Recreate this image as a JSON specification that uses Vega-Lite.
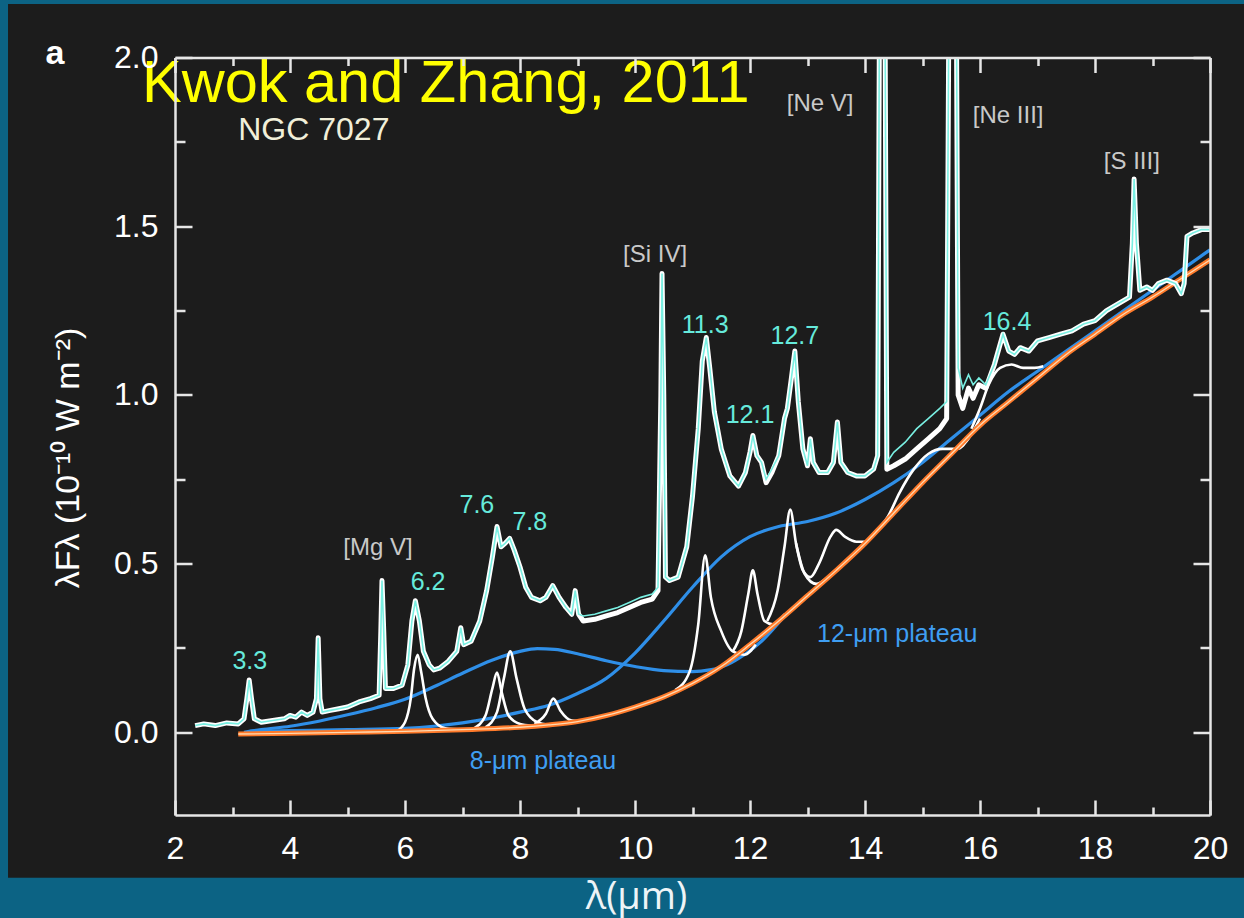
{
"$schema": "https://vega.github.io/schema/vega-lite/v6.json",
"width": 1035,
"height": 757.5,
"autosize": {"type": "none"},
"padding": {"left": 175, "top": 57.5, "right": 34, "bottom": 103},
"background": "#0c6384",
"title": {"text": "Kwok and Zhang, 2011", "color": "#ffff00", "font": "Liberation Sans", "fontSize": 59.5, "fontWeight": "normal", "anchor": "start", "frame": "group", "orient": "top", "offset": 0, "baseline": "alphabetic", "dx": -33, "dy": 157},
"config": {
  "view": {"stroke": null},
  "axis": {"grid": false, "domainColor": "#e6e6e6", "tickColor": "#e6e6e6", "domainWidth": 2.5, "tickWidth": 2.5, "labelColor": "#ffffff", "labelFont": "Liberation Sans", "labelFontSize": 32, "labelFlush": false, "labelOverlap": false}
},
"resolve": {"axis": {"x": "independent", "y": "independent"}},
"datasets": {
  "panel": [{"x1": -0.904, "x2": 20.8, "y1": -0.431, "y2": 2.1585}],
  "obs": [
    {"x":2.35,"y":0.02,"m":0.02},{"x":2.5,"y":0.025,"m":0.025},{"x":2.7,"y":0.02,"m":0.02},{"x":2.9,"y":0.028,"m":0.028},{"x":3.1,"y":0.025,"m":0.025},
    {"x":3.2,"y":0.04,"m":0.04},{"x":3.25,"y":0.1,"m":0.1},{"x":3.29,"y":0.155,"m":0.155},{"x":3.33,"y":0.1,"m":0.1},{"x":3.38,"y":0.04,"m":0.04},
    {"x":3.5,"y":0.03,"m":0.03},{"x":3.7,"y":0.035,"m":0.035},{"x":3.9,"y":0.04,"m":0.04},{"x":4.0,"y":0.05,"m":0.05},{"x":4.1,"y":0.045,"m":0.045},
    {"x":4.2,"y":0.06,"m":0.06},{"x":4.3,"y":0.05,"m":0.05},{"x":4.4,"y":0.06,"m":0.06},{"x":4.46,"y":0.1,"m":0.1},{"x":4.49,"y":0.28,"m":0.28},
    {"x":4.52,"y":0.1,"m":0.1},{"x":4.56,"y":0.06,"m":0.06},{"x":4.7,"y":0.065,"m":0.065},{"x":4.85,"y":0.07,"m":0.07},{"x":5.0,"y":0.075,"m":0.075},
    {"x":5.2,"y":0.09,"m":0.09},{"x":5.4,"y":0.1,"m":0.1},{"x":5.55,"y":0.11,"m":0.11},{"x":5.58,"y":0.3,"m":0.3},{"x":5.6,"y":0.45,"m":0.45},
    {"x":5.63,"y":0.3,"m":0.3},{"x":5.66,"y":0.13,"m":0.13},{"x":5.8,"y":0.13,"m":0.13},{"x":5.95,"y":0.14,"m":0.14},{"x":6.05,"y":0.2,"m":0.2},
    {"x":6.12,"y":0.33,"m":0.33},{"x":6.18,"y":0.39,"m":0.39},{"x":6.25,"y":0.33,"m":0.33},{"x":6.32,"y":0.24,"m":0.24},{"x":6.42,"y":0.2,"m":0.2},
    {"x":6.5,"y":0.185,"m":0.185},{"x":6.6,"y":0.19,"m":0.19},{"x":6.75,"y":0.21,"m":0.21},{"x":6.9,"y":0.24,"m":0.24},{"x":6.97,"y":0.31,"m":0.31},
    {"x":7.02,"y":0.26,"m":0.26},{"x":7.15,"y":0.27,"m":0.27},{"x":7.3,"y":0.33,"m":0.33},{"x":7.42,"y":0.42,"m":0.42},{"x":7.52,"y":0.52,"m":0.52},
    {"x":7.6,"y":0.61,"m":0.61},{"x":7.67,"y":0.55,"m":0.55},{"x":7.74,"y":0.56,"m":0.56},{"x":7.82,"y":0.575,"m":0.575},{"x":7.9,"y":0.54,"m":0.54},
    {"x":8.0,"y":0.49,"m":0.49},{"x":8.1,"y":0.43,"m":0.43},{"x":8.2,"y":0.4,"m":0.4},{"x":8.35,"y":0.39,"m":0.39},{"x":8.45,"y":0.4,"m":0.4},
    {"x":8.57,"y":0.435,"m":0.435},{"x":8.68,"y":0.4,"m":0.4},{"x":8.8,"y":0.37,"m":0.37},{"x":8.9,"y":0.35,"m":0.35},{"x":8.96,"y":0.42,"m":0.42},
    {"x":9.02,"y":0.35,"m":0.35},{"x":9.1,"y":0.33,"m":0.345},{"x":9.3,"y":0.335,"m":0.35},{"x":9.5,"y":0.345,"m":0.36},{"x":9.7,"y":0.355,"m":0.37},
    {"x":9.9,"y":0.37,"m":0.385},{"x":10.1,"y":0.385,"m":0.4},{"x":10.3,"y":0.395,"m":0.41},{"x":10.4,"y":0.42,"m":0.43},{"x":10.45,"y":1.0,"m":1.0},
    {"x":10.47,"y":1.36,"m":1.36},{"x":10.5,"y":1.0,"m":1.0},{"x":10.53,"y":0.46,"m":0.46},{"x":10.6,"y":0.45,"m":0.45},{"x":10.75,"y":0.46,"m":0.46},
    {"x":10.9,"y":0.55,"m":0.55},{"x":11.0,"y":0.7,"m":0.7},{"x":11.1,"y":0.9,"m":0.9},{"x":11.17,"y":1.1,"m":1.1},{"x":11.24,"y":1.17,"m":1.17},
    {"x":11.3,"y":1.08,"m":1.08},{"x":11.38,"y":0.95,"m":0.95},{"x":11.5,"y":0.84,"m":0.84},{"x":11.65,"y":0.76,"m":0.76},{"x":11.8,"y":0.73,"m":0.73},
    {"x":11.92,"y":0.77,"m":0.77},{"x":12.0,"y":0.83,"m":0.83},{"x":12.05,"y":0.88,"m":0.88},{"x":12.12,"y":0.82,"m":0.82},{"x":12.2,"y":0.8,"m":0.8},
    {"x":12.28,"y":0.74,"m":0.75},{"x":12.38,"y":0.77,"m":0.78},{"x":12.5,"y":0.82,"m":0.82},{"x":12.6,"y":0.93,"m":0.93},{"x":12.65,"y":0.96,"m":0.96},
    {"x":12.72,"y":1.05,"m":1.05},{"x":12.78,"y":1.13,"m":1.13},{"x":12.84,"y":0.98,"m":0.98},{"x":12.92,"y":0.84,"m":0.84},{"x":13.0,"y":0.79,"m":0.79},
    {"x":13.05,"y":0.87,"m":0.87},{"x":13.1,"y":0.8,"m":0.8},{"x":13.2,"y":0.77,"m":0.77},{"x":13.35,"y":0.77,"m":0.77},{"x":13.45,"y":0.8,"m":0.8},
    {"x":13.52,"y":0.92,"m":0.92},{"x":13.58,"y":0.8,"m":0.8},{"x":13.7,"y":0.77,"m":0.77},{"x":13.85,"y":0.76,"m":0.76},{"x":14.0,"y":0.76,"m":0.76},
    {"x":14.15,"y":0.78,"m":0.78},{"x":14.22,"y":0.82,"m":0.82},{"x":14.26,"y":2.5,"m":2.5},{"x":14.34,"y":2.5,"m":2.5},{"x":14.38,"y":0.78,"m":0.8},
    {"x":14.5,"y":0.79,"m":0.83},{"x":14.7,"y":0.81,"m":0.86},{"x":14.9,"y":0.84,"m":0.9},{"x":15.1,"y":0.87,"m":0.93},{"x":15.3,"y":0.9,"m":0.96},
    {"x":15.42,"y":0.93,"m":0.98},{"x":15.47,"y":2.5,"m":2.5},{"x":15.58,"y":2.5,"m":2.5},{"x":15.62,"y":1.0,"m":1.08},{"x":15.7,"y":0.96,"m":1.02},
    {"x":15.8,"y":1.02,"m":1.06},{"x":15.88,"y":0.99,"m":1.03},{"x":15.98,"y":1.03,"m":1.05},{"x":16.1,"y":1.02,"m":1.03},{"x":16.25,"y":1.09,"m":1.09},
    {"x":16.4,"y":1.18,"m":1.18},{"x":16.5,"y":1.13,"m":1.13},{"x":16.6,"y":1.12,"m":1.12},{"x":16.7,"y":1.14,"m":1.14},{"x":16.85,"y":1.13,"m":1.13},
    {"x":17.0,"y":1.16,"m":1.16},{"x":17.2,"y":1.17,"m":1.17},{"x":17.4,"y":1.18,"m":1.18},{"x":17.6,"y":1.19,"m":1.19},{"x":17.8,"y":1.21,"m":1.21},
    {"x":18.0,"y":1.22,"m":1.22},{"x":18.2,"y":1.25,"m":1.25},{"x":18.4,"y":1.27,"m":1.27},{"x":18.6,"y":1.29,"m":1.29},{"x":18.65,"y":1.45,"m":1.45},
    {"x":18.68,"y":1.64,"m":1.64},{"x":18.72,"y":1.45,"m":1.45},{"x":18.78,"y":1.31,"m":1.31},{"x":18.9,"y":1.32,"m":1.32},{"x":19.0,"y":1.31,"m":1.31},
    {"x":19.1,"y":1.33,"m":1.33},{"x":19.25,"y":1.34,"m":1.34},{"x":19.4,"y":1.33,"m":1.33},{"x":19.5,"y":1.3,"m":1.3},{"x":19.55,"y":1.33,"m":1.33},
    {"x":19.6,"y":1.47,"m":1.47},{"x":19.7,"y":1.48,"m":1.48},{"x":19.85,"y":1.49,"m":1.49},{"x":20.0,"y":1.49,"m":1.49}
  ],
  "cont": [
    {"x":3.1,"y":-0.005},{"x":4.0,"y":-0.003},{"x":5.0,"y":0.0},{"x":6.0,"y":0.003},{"x":7.0,"y":0.008},{"x":8.0,"y":0.015},{"x":8.5,"y":0.022},
    {"x":9.0,"y":0.032},{"x":9.5,"y":0.05},{"x":10.0,"y":0.075},{"x":10.5,"y":0.105},{"x":11.0,"y":0.145},{"x":11.5,"y":0.195},{"x":12.0,"y":0.26},
    {"x":12.5,"y":0.33},{"x":13.0,"y":0.405},{"x":13.5,"y":0.48},{"x":14.0,"y":0.56},{"x":14.5,"y":0.65},{"x":15.0,"y":0.74},{"x":15.5,"y":0.825},
    {"x":16.0,"y":0.91},{"x":16.5,"y":0.98},{"x":17.0,"y":1.05},{"x":17.5,"y":1.12},{"x":18.0,"y":1.18},{"x":18.5,"y":1.24},{"x":19.0,"y":1.29},
    {"x":19.5,"y":1.345},{"x":20.0,"y":1.4}
  ],
  "plat": [
    {"s":"A","x":3.2,"y":0.0},{"s":"A","x":3.5,"y":0.008},{"s":"A","x":4.0,"y":0.018},{"s":"A","x":4.5,"y":0.033},{"s":"A","x":5.0,"y":0.052},
    {"s":"A","x":5.5,"y":0.073},{"s":"A","x":6.0,"y":0.098},{"s":"A","x":6.5,"y":0.135},{"s":"A","x":7.0,"y":0.175},{"s":"A","x":7.5,"y":0.213},
    {"s":"A","x":8.0,"y":0.24},{"s":"A","x":8.3,"y":0.248},{"s":"A","x":8.6,"y":0.246},{"s":"A","x":9.0,"y":0.233},{"s":"A","x":9.5,"y":0.212},
    {"s":"A","x":10.0,"y":0.195},{"s":"A","x":10.5,"y":0.183},{"s":"A","x":11.0,"y":0.18},{"s":"A","x":11.3,"y":0.185},{"s":"A","x":11.6,"y":0.2},
    {"s":"A","x":11.9,"y":0.23},{"s":"A","x":12.2,"y":0.27},{"s":"A","x":12.6,"y":0.345},
    {"s":"B","x":3.3,"y":0.003},{"s":"B","x":4.0,"y":0.005},{"s":"B","x":5.0,"y":0.008},{"s":"B","x":6.0,"y":0.012},{"s":"B","x":6.5,"y":0.018},
    {"s":"B","x":7.0,"y":0.028},{"s":"B","x":7.5,"y":0.042},{"s":"B","x":8.0,"y":0.06},{"s":"B","x":8.5,"y":0.08},{"s":"B","x":9.0,"y":0.115},
    {"s":"B","x":9.5,"y":0.16},{"s":"B","x":10.0,"y":0.235},{"s":"B","x":10.5,"y":0.33},{"s":"B","x":11.0,"y":0.43},{"s":"B","x":11.5,"y":0.52},
    {"s":"B","x":12.0,"y":0.58},{"s":"B","x":12.5,"y":0.61},{"s":"B","x":13.0,"y":0.625},{"s":"B","x":13.5,"y":0.65},{"s":"B","x":14.0,"y":0.69},
    {"s":"B","x":14.5,"y":0.74},{"s":"B","x":15.0,"y":0.8},{"s":"B","x":15.5,"y":0.87},{"s":"B","x":16.0,"y":0.94},{"s":"B","x":16.5,"y":1.01},
    {"s":"B","x":17.0,"y":1.07},{"s":"B","x":17.5,"y":1.13},{"s":"B","x":18.0,"y":1.19},{"s":"B","x":18.5,"y":1.25},{"s":"B","x":19.0,"y":1.31},
    {"s":"B","x":19.5,"y":1.37},{"s":"B","x":20.0,"y":1.43}
  ],
  "pah": [
    {"s":"p62","x":5.85,"y":0.003},{"s":"p62","x":6.0,"y":0.03},{"s":"p62","x":6.1,"y":0.1},{"s":"p62","x":6.16,"y":0.19},{"s":"p62","x":6.22,"y":0.23},
    {"s":"p62","x":6.28,"y":0.18},{"s":"p62","x":6.36,"y":0.1},{"s":"p62","x":6.48,"y":0.04},{"s":"p62","x":6.7,"y":0.012},{"s":"p62","x":7.0,"y":0.008},
    {"s":"p76","x":7.2,"y":0.012},{"s":"p76","x":7.4,"y":0.05},{"s":"p76","x":7.52,"y":0.13},{"s":"p76","x":7.6,"y":0.177},{"s":"p76","x":7.68,"y":0.12},
    {"s":"p76","x":7.8,"y":0.05},{"s":"p76","x":8.0,"y":0.025},{"s":"p76","x":8.2,"y":0.02},
    {"s":"p78","x":7.4,"y":0.015},{"s":"p78","x":7.6,"y":0.06},{"s":"p78","x":7.72,"y":0.16},{"s":"p78","x":7.83,"y":0.24},{"s":"p78","x":7.94,"y":0.16},
    {"s":"p78","x":8.08,"y":0.07},{"s":"p78","x":8.3,"y":0.03},{"s":"p78","x":8.5,"y":0.022},
    {"s":"p86","x":8.25,"y":0.025},{"s":"p86","x":8.45,"y":0.055},{"s":"p86","x":8.58,"y":0.1},{"s":"p86","x":8.7,"y":0.065},{"s":"p86","x":8.9,"y":0.035},{"s":"p86","x":9.1,"y":0.032},
    {"s":"p113","x":10.7,"y":0.125},{"s":"p113","x":10.95,"y":0.18},{"s":"p113","x":11.1,"y":0.32},{"s":"p113","x":11.22,"y":0.525},{"s":"p113","x":11.32,"y":0.4},
    {"s":"p113","x":11.5,"y":0.3},{"s":"p113","x":11.7,"y":0.24},{"s":"p113","x":11.9,"y":0.23},{"s":"p113","x":12.1,"y":0.26},
    {"s":"p120","x":11.7,"y":0.24},{"s":"p120","x":11.85,"y":0.3},{"s":"p120","x":11.97,"y":0.41},{"s":"p120","x":12.05,"y":0.48},{"s":"p120","x":12.13,"y":0.41},
    {"s":"p120","x":12.25,"y":0.33},{"s":"p120","x":12.4,"y":0.32},{"s":"p120","x":12.6,"y":0.35},
    {"s":"p127","x":12.3,"y":0.33},{"s":"p127","x":12.48,"y":0.42},{"s":"p127","x":12.6,"y":0.55},{"s":"p127","x":12.7,"y":0.66},{"s":"p127","x":12.8,"y":0.56},
    {"s":"p127","x":12.92,"y":0.48},{"s":"p127","x":13.05,"y":0.46},{"s":"p127","x":13.2,"y":0.5},{"s":"p127","x":13.4,"y":0.58},{"s":"p127","x":13.5,"y":0.6},
    {"s":"p127","x":13.65,"y":0.58},{"s":"p127","x":13.85,"y":0.565},{"s":"p127","x":14.0,"y":0.565},{"s":"p127","x":14.15,"y":0.59},
    {"s":"p127b","x":12.8,"y":0.56},{"s":"p127b","x":12.95,"y":0.47},{"s":"p127b","x":13.15,"y":0.44},{"s":"p127b","x":13.35,"y":0.46},
    {"s":"p15","x":14.15,"y":0.59},{"s":"p15","x":14.4,"y":0.64},{"s":"p15","x":14.6,"y":0.71},{"s":"p15","x":14.85,"y":0.78},{"s":"p15","x":15.1,"y":0.825},
    {"s":"p15","x":15.35,"y":0.84},{"s":"p15","x":15.6,"y":0.84},{"s":"p15","x":15.8,"y":0.87},{"s":"p15","x":16.0,"y":0.93},
    {"s":"p164","x":15.85,"y":0.9},{"s":"p164","x":16.0,"y":0.96},{"s":"p164","x":16.15,"y":1.03},{"s":"p164","x":16.35,"y":1.08},{"s":"p164","x":16.55,"y":1.09},
    {"s":"p164","x":16.75,"y":1.08},{"s":"p164","x":16.95,"y":1.08},{"s":"p164","x":17.1,"y":1.085}
  ],
  "labels": [
    {"k":"pah","t":"3.3","x":3.3,"y":0.21},
    {"k":"pah","t":"6.2","x":6.4,"y":0.445},
    {"k":"pah","t":"7.6","x":7.25,"y":0.674},
    {"k":"pah","t":"7.8","x":8.17,"y":0.624},
    {"k":"pah","t":"11.3","x":11.22,"y":1.207},
    {"k":"pah","t":"12.1","x":12.0,"y":0.94},
    {"k":"pah","t":"12.7","x":12.78,"y":1.175},
    {"k":"pah","t":"16.4","x":16.47,"y":1.216},
    {"k":"ion","t":"[Mg V]","x":5.53,"y":0.545},
    {"k":"ion","t":"[Si IV]","x":10.35,"y":1.415},
    {"k":"ion","t":"[Ne V]","x":13.22,"y":1.862},
    {"k":"ion","t":"[Ne III]","x":16.49,"y":1.826},
    {"k":"ion","t":"[S III]","x":18.64,"y":1.69},
    {"k":"plat","t":"8-μm plateau","x":8.4,"y":-0.085},
    {"k":"plat","t":"12-μm plateau","x":14.56,"y":0.29}
  ]
},
"layer": [
  {
    "data": {"name": "panel"},
    "mark": {"type": "rect", "fill": "#1c1c1c", "clip": false},
    "encoding": {
      "x": {"field": "x1", "type": "quantitative", "scale": {"domain": [2, 20], "nice": false, "zero": false},
        "axis": {"orient": "bottom", "zindex": 1, "values": [2,4,6,8,10,12,14,16,18,20], "tickSize": -15, "labelPadding": 33, "domain": true,
          "title": "λ(μm)", "titleFont": "Open Sans", "titleFontSize": 38, "titleFontWeight": "normal", "titleColor": "#eef4f7", "titleX": 461, "titleY": 93, "titleBaseline": "alphabetic", "titleAlign": "center"}},
      "x2": {"field": "x2"},
      "y": {"field": "y1", "type": "quantitative", "scale": {"domain": [-0.245, 2.0], "nice": false, "zero": false},
        "axis": {"orient": "left", "zindex": 1, "values": [0, 0.5, 1, 1.5, 2], "format": ".1f", "tickSize": -17, "labelPadding": 34, "domain": true,
          "title": "λFλ (10⁻¹⁰ W m⁻²)", "titleFont": "Liberation Sans", "titleFontSize": 34, "titleFontWeight": "normal", "titleColor": "#ffffff", "titleX": -107, "titleY": 400, "titleAngle": -90, "titleBaseline": "middle", "titleAlign": "center"}},
      "y2": {"field": "y2"}
    }
  },
  {
    "data": {"name": "plat"},
    "mark": {"type": "line", "color": "#2f8fe8", "strokeWidth": 3.2, "interpolate": "monotone"},
    "encoding": {
      "x": {"field": "x", "type": "quantitative", "axis": {"orient": "bottom", "zindex": 1, "values": [3,5,7,9,11,13,15,17,19], "tickSize": -8, "labels": false, "domain": false, "title": null}},
      "y": {"field": "y", "type": "quantitative", "axis": {"orient": "left", "zindex": 1, "values": [0.25, 0.75, 1.25, 1.75], "tickSize": -10, "labels": false, "domain": false, "title": null}},
      "detail": {"field": "s"}
    }
  },
  {
    "data": {"name": "pah"},
    "mark": {"type": "line", "color": "#ffffff", "strokeWidth": 2.6, "interpolate": "monotone"},
    "encoding": {
      "x": {"field": "x", "type": "quantitative", "axis": {"orient": "top", "zindex": 1, "values": [2,4,6,8,10,12,14,16,18,20], "tickSize": -15, "labels": false, "domain": true, "title": null}},
      "y": {"field": "y", "type": "quantitative", "axis": {"orient": "right", "zindex": 1, "values": [0, 0.5, 1, 1.5, 2], "tickSize": -17, "labels": false, "domain": true, "title": null}},
      "detail": {"field": "s"}
    }
  },
  {
    "data": {"name": "cont"},
    "mark": {"type": "line", "color": "#ff7a2a", "strokeWidth": 5, "interpolate": "monotone"},
    "encoding": {
      "x": {"field": "x", "type": "quantitative", "axis": {"orient": "top", "zindex": 1, "values": [3,5,7,9,11,13,15,17,19], "tickSize": -8, "labels": false, "domain": false, "title": null}},
      "y": {"field": "y", "type": "quantitative", "axis": {"orient": "right", "zindex": 1, "values": [0.25, 0.75, 1.25, 1.75], "tickSize": -10, "labels": false, "domain": false, "title": null}}
    }
  },
  {
    "data": {"name": "cont"},
    "mark": {"type": "line", "color": "#ffd9b0", "strokeWidth": 1.3, "interpolate": "monotone"},
    "encoding": {
      "x": {"field": "x", "type": "quantitative", "axis": null},
      "y": {"field": "y", "type": "quantitative", "axis": null}
    }
  },
  {
    "data": {"name": "obs"},
    "mark": {"type": "line", "color": "#ffffff", "strokeWidth": 5, "clip": true, "strokeJoin": "round"},
    "encoding": {
      "x": {"field": "x", "type": "quantitative", "axis": null},
      "y": {"field": "y", "type": "quantitative", "axis": null}
    }
  },
  {
    "data": {"name": "obs"},
    "mark": {"type": "line", "color": "#79efe2", "strokeWidth": 1.6, "clip": true},
    "encoding": {
      "x": {"field": "x", "type": "quantitative", "axis": null},
      "y": {"field": "m", "type": "quantitative", "axis": null}
    }
  },
  {
    "data": {"name": "labels"},
    "transform": [{"filter": "datum.k === 'pah'"}],
    "mark": {"type": "text", "color": "#66eadb", "font": "Liberation Sans", "fontSize": 25, "align": "center", "baseline": "middle"},
    "encoding": {
      "x": {"field": "x", "type": "quantitative", "axis": null},
      "y": {"field": "y", "type": "quantitative", "axis": null},
      "text": {"field": "t"}
    }
  },
  {
    "data": {"name": "labels"},
    "transform": [{"filter": "datum.k === 'ion'"}],
    "mark": {"type": "text", "color": "#c9c9c9", "font": "Liberation Sans", "fontSize": 24, "align": "center", "baseline": "middle"},
    "encoding": {
      "x": {"field": "x", "type": "quantitative", "axis": null},
      "y": {"field": "y", "type": "quantitative", "axis": null},
      "text": {"field": "t"}
    }
  },
  {
    "data": {"name": "labels"},
    "transform": [{"filter": "datum.k === 'plat'"}],
    "mark": {"type": "text", "color": "#3f9ef2", "font": "Liberation Sans", "fontSize": 25, "align": "center", "baseline": "middle"},
    "encoding": {
      "x": {"field": "x", "type": "quantitative", "axis": null},
      "y": {"field": "y", "type": "quantitative", "axis": null},
      "text": {"field": "t"}
    }
  },
  {
    "data": {"values": [{"t": "NGC 7027", "x": 3.1, "y": 1.785}]},
    "mark": {"type": "text", "color": "#f1efd9", "font": "Liberation Sans", "fontSize": 32, "align": "left", "baseline": "middle"},
    "encoding": {
      "x": {"field": "x", "type": "quantitative", "axis": null},
      "y": {"field": "y", "type": "quantitative", "axis": null},
      "text": {"field": "t"}
    }
  },
  {
    "data": {"values": [{"t": "a", "x": -0.087, "y": 1.981}]},
    "mark": {"type": "text", "color": "#ffffff", "font": "Liberation Sans", "fontSize": 34, "fontWeight": "bold", "align": "center", "baseline": "alphabetic", "clip": false},
    "encoding": {
      "x": {"field": "x", "type": "quantitative", "axis": null},
      "y": {"field": "y", "type": "quantitative", "axis": null},
      "text": {"field": "t"}
    }
  }
]
}
